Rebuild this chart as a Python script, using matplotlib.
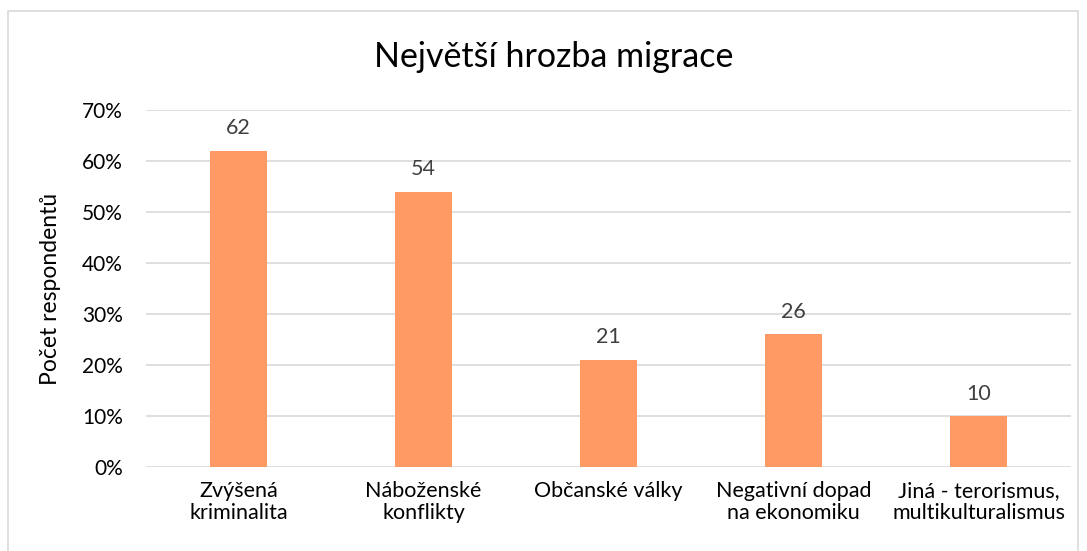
import matplotlib.pyplot as plt
from matplotlib.patches import Rectangle
from matplotlib.ticker import PercentFormatter

plt.rcParams['font.family'] = ['Lato', 'DejaVu Sans']

categories = ["Zvýšená\nkriminalita", "Náboženské\nkonflikty", "Občanské války",
              "Negativní dopad\nna ekonomiku", "Jiná - terorismus,\nmultikulturalismus"]
values = [62, 54, 21, 26, 10]
yticks = [0, 10, 20, 30, 40, 50, 60, 70]

fig = plt.figure(figsize=(10.87, 5.51), dpi=100)
ax = fig.add_axes([146 / 1087, 84 / 551, 925 / 1087, 357 / 551])

x = range(len(values))
ax.bar(x, values, width=0.31, color="#FF9A65", zorder=3)

for xi, v in zip(x, values):
    ax.annotate(str(v), (xi, v), xytext=(0, 9), textcoords="offset points",
                ha="center", va="bottom", fontsize=15.5, color="#404040")

# category labels, each line centred on its own
for xi, c in zip(x, categories):
    for k, line in enumerate(c.split("\n")):
        ax.annotate(line, (xi, 0), xycoords=("data", "axes fraction"),
                    xytext=(0, -17 - 16 * k), textcoords="offset points",
                    ha="center", va="center", fontsize=15.5)

ax.set_xlim(-0.5, len(values) - 0.5)
ax.set_ylim(0, 70)
ax.set_yticks(yticks)
ax.yaxis.set_major_formatter(PercentFormatter(decimals=0))
ax.set_xticks([])
ax.tick_params(axis="y", labelsize=15, length=0, pad=16.5)
ax.grid(axis="y", color="#D9D9D9", linewidth=1.2, zorder=0)
for s in ax.spines.values():
    s.set_visible(False)

ax.set_ylabel("Počet respondentů", fontsize=16.5, labelpad=15)
fig.text(554 / 1087, 1 - 57 / 551, "Největší hrozba migrace", fontsize=24.5,
         ha="center", va="center")

# chart frame
fig.patches.append(Rectangle((8 / 1087, -0.05), 1070 / 1087, 1 - 11 / 551 + 0.05,
                             transform=fig.transFigure, fill=False,
                             edgecolor="#D9D9D9", linewidth=1.2))

fig.savefig("out.png", dpi=100)
